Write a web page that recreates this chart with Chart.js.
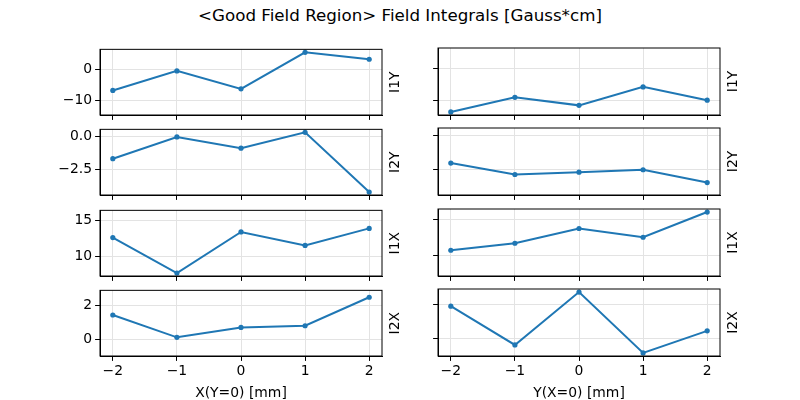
<!DOCTYPE html>
<html>
<head>
<meta charset="utf-8">
<script src="https://cdn.jsdelivr.net/npm/chart.js@4/dist/chart.umd.min.js"></script>
<style>
  body { margin: 0; background: #fff; }
  #wrap { position: relative; width: 800px; height: 400px; overflow: hidden; }
  #wrap canvas { position: absolute; }
  #suptitle { position: absolute; left: 0; width: 800px; top: 5px; text-align: center;
              font: 16.7px "DejaVu Sans", sans-serif; color: #000; }
</style>
</head>
<body>
<div id="wrap">
  <div id="suptitle">&lt;Good Field Region&gt; Field Integrals [Gauss*cm]</div>
</div>
<script>
// positions along the scan, mm
const positions = [-2, -1, 0, 1, 2];
const xTicks = [-2, -1, 0, 1, 2];

// row names (right-hand labels)
const rowNames = ['I1Y', 'I2Y', 'I1X', 'I2X'];
const colTitles = ['X(Y=0) [mm]', 'Y(X=0) [mm]'];

// scan along X with Y=0
const i1yAlongX = [-6.8, -0.6, -6.3, 5.3, 3.1];
const i2yAlongX = [-1.67, -0.02, -0.87, 0.33, -4.2];
const i1xAlongX = [12.6, 7.6, 13.4, 11.5, 13.9];
const i2xAlongX = [1.42, 0.11, 0.69, 0.79, 2.46];

// scan along Y with X=0
const i1yAlongY = [-13.65, -9.1, -11.6, -5.85, -10.0];
const i2yAlongY = [-2.05, -2.9, -2.73, -2.55, -3.5];
const i1xAlongY = [10.74, 11.71, 13.75, 12.54, 16.03];
const i2xAlongY = [1.88, -0.35, 2.69, -0.81, 0.46];

// y tick values per row
const yTicks = [[-10, 0], [-2.5, 0], [10, 15], [0, 2]];
const yDecimals = [0, 1, 0, 0];

const rows = [
    [i1yAlongX, i1yAlongY],
    [i2yAlongX, i2yAlongY],
    [i1xAlongX, i1xAlongY],
    [i2xAlongX, i2xAlongY]
];

const BLUE = '#1f77b4';
const FONT = '"DejaVu Sans", sans-serif';
const FS = 13.9;
const colLeft = [100, 438];
const rowTop = [48, 128, 209, 289];
const boxW = 282, boxH = 67;
const padL = 60, padT = 10, padR = 40, axisH = 46;

const frame = {
    id: 'frame',
    afterDraw(chart, args, opts) {
        const a = chart.chartArea, ctx = chart.ctx;
        ctx.save();
        ctx.strokeStyle = '#000';
        ctx.lineWidth = 1;
        ctx.strokeRect(a.left, a.top, a.right - a.left, a.bottom - a.top);
        ctx.translate(a.right + 13, (a.top + a.bottom) / 2);
        ctx.rotate(-Math.PI / 2);
        ctx.fillStyle = '#000';
        ctx.font = FS + 'px ' + FONT;
        ctx.textAlign = 'center';
        ctx.textBaseline = 'middle';
        ctx.fillText(opts.label, 0, 0);
        ctx.restore();
    }
};

function fmt(v, d) {
    return v.toFixed(d).replace('-', '\u2212');
}

const wrap = document.getElementById('wrap');

rows.forEach((pair, r) => {
    // shared y range for the row, with 5% margin like autoscale
    const all = pair[0].concat(pair[1]);
    const lo = Math.min(...all), hi = Math.max(...all);
    const m = (hi - lo) * 0.05;
    const bottomRow = r === rows.length - 1;

    pair.forEach((vals, c) => {
        const cv = document.createElement('canvas');
        const w = boxW + padL + padR, h = boxH + padT + axisH;
        cv.style.left = (colLeft[c] - padL) + 'px';
        cv.style.top = (rowTop[r] - padT) + 'px';
        cv.style.width = w + 'px';
        cv.style.height = h + 'px';
        wrap.appendChild(cv);

        new Chart(cv, {
            type: 'line',
            data: {
                datasets: [{
                    data: positions.map((p, i) => ({ x: p, y: vals[i] })),
                    borderColor: BLUE,
                    backgroundColor: BLUE,
                    borderWidth: 2,
                    pointRadius: 2.6,
                    pointHoverRadius: 2.6,
                    pointBorderWidth: 0,
                    tension: 0,
                    clip: false
                }]
            },
            options: {
                responsive: false,
                animation: false,
                events: [],
                layout: { padding: { left: 0, top: padT, right: padR, bottom: 0 } },
                plugins: {
                    legend: { display: false },
                    tooltip: { enabled: false },
                    frame: { label: rowNames[r] }
                },
                scales: {
                    x: {
                        type: 'linear',
                        min: -2.2,
                        max: 2.2,
                        afterBuildTicks: s => { s.ticks = xTicks.map(v => ({ value: v })); },
                        afterFit: s => { s.height = axisH; },
                        grid: { color: '#e3e3e3', lineWidth: 1, tickColor: '#000', tickLength: 4.9, tickWidth: 1 },
                        border: { display: true, color: '#000', width: 1 },
                        ticks: {
                            display: bottomRow,
                            maxRotation: 0,
                            padding: 2,
                            color: '#000',
                            font: { family: FONT, size: FS },
                            callback: v => fmt(v, 0)
                        },
                        title: {
                            display: bottomRow,
                            text: colTitles[c],
                            color: '#000',
                            font: { family: FONT, size: FS },
                            padding: { top: 1, bottom: 0 }
                        }
                    },
                    y: {
                        min: lo - m,
                        max: hi + m,
                        afterBuildTicks: s => { s.ticks = yTicks[r].map(v => ({ value: v })); },
                        afterFit: s => { s.width = padL; },
                        grid: { color: '#e3e3e3', lineWidth: 1, tickColor: '#000', tickLength: 4.9, tickWidth: 1 },
                        border: { display: true, color: '#000', width: 1 },
                        ticks: {
                            display: c === 0,
                            padding: 3,
                            color: '#000',
                            font: { family: FONT, size: FS },
                            callback: v => fmt(v, yDecimals[r])
                        }
                    }
                }
            },
            plugins: [frame]
        });
    });
});
</script>
</body>
</html>
